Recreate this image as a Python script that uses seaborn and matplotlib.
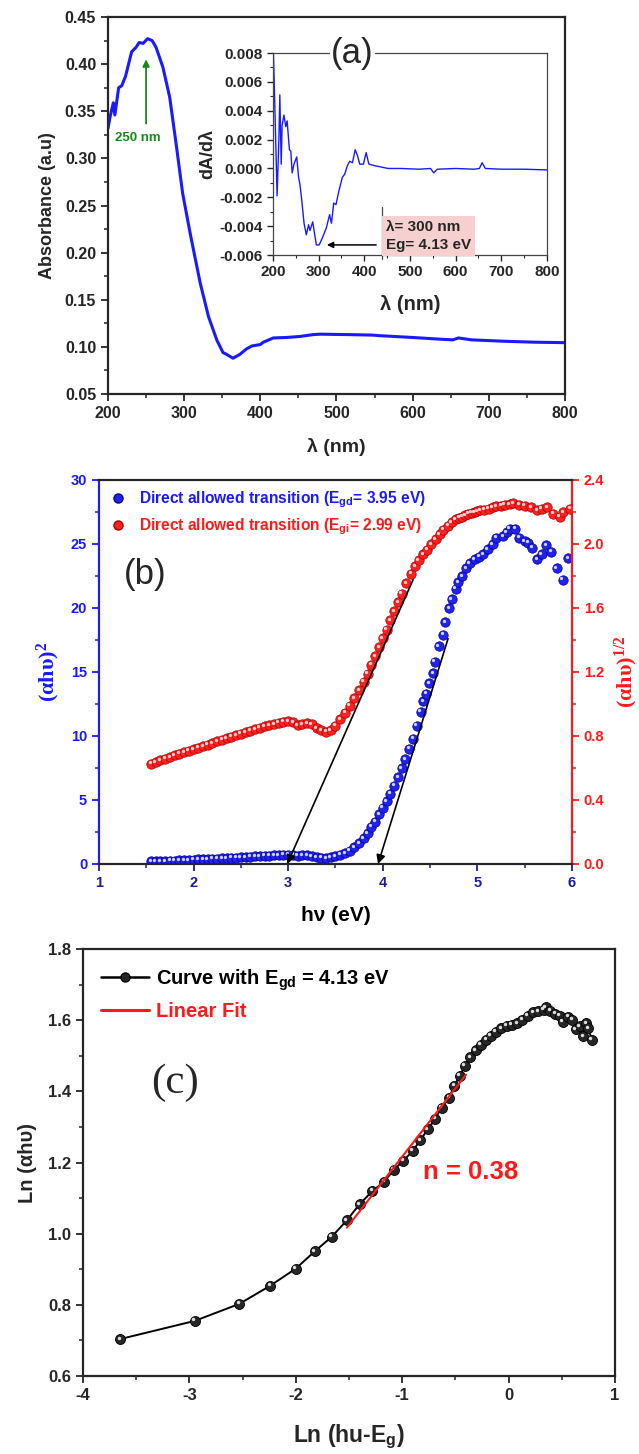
import numpy as np
import matplotlib
matplotlib.use("Agg")
import matplotlib.pyplot as plt
from matplotlib.lines import Line2D
from matplotlib.transforms import offset_copy
import seaborn as sns

# ---------------------------------------
# Data
# ---------------------------------------

# (a) absorbance spectrum
lam_a = [200, 203, 207, 209, 214, 218, 223, 231, 237, 241, 246, 252, 258, 263,
         272, 281, 290, 298, 308, 321, 332, 343, 351, 356, 364, 373, 382, 389,
         400, 404, 417, 434, 451, 469, 478, 520, 548, 555, 600, 640, 653, 660,
         677, 720, 760, 800]
abs_a = [0.332, 0.345, 0.359, 0.346, 0.375, 0.377, 0.387, 0.413, 0.418, 0.423,
         0.422, 0.427, 0.425, 0.418, 0.397, 0.365, 0.312, 0.263, 0.220, 0.168,
         0.132, 0.107, 0.094, 0.092, 0.088, 0.092, 0.098, 0.101, 0.1025, 0.105,
         0.1095, 0.110, 0.111, 0.113, 0.1135, 0.113, 0.1125, 0.112, 0.110,
         0.108, 0.1075, 0.1095, 0.1075, 0.106, 0.105, 0.1045]

# (a) inset: first derivative
lam_in = [201, 204, 209, 213, 215, 218, 220, 224, 228, 231, 236, 239, 242, 246,
          252, 256, 259, 263, 268, 273, 278, 281, 287, 290, 295, 301, 307, 317,
          324, 328, 333, 338, 344, 352, 357, 363, 368, 374, 380, 385, 390, 398,
          404, 410, 422, 437, 452, 480, 520, 545, 552, 560, 600, 640, 652, 658,
          665, 700, 750, 800]
dadl = [0.0080, 0.0044, -0.0019, 0.0021, 0.0051, 0.0003, 0.0030, 0.0037,
        0.0029, 0.0033, 0.0013, 0.0012, -0.0003, 0.0003, 0.0008, -0.0006,
        -0.0011, -0.0022, -0.0038, -0.0046, -0.0039, -0.0043, -0.0037,
        -0.0043, -0.0053, -0.0053, -0.0049, -0.0041, -0.0032, -0.0038,
        -0.0024, -0.0025, -0.0016, -0.0006, -0.0004, 0.0002, 0.0005, 0.0004,
        0.0013, 0.0009, 0.0003, 0.0003, 0.0011, 0.0003, 0.0002, 0.0001,
        0.0000, 0.0000, -0.00005, 0.0000, -0.0003, -0.00005, 0.0000, -0.00005,
        0.0000, 0.0004, 0.0000, -0.00005, -0.00005, -0.0001]

# (b) Tauc plot, direct (left axis)
hv_blue = [1.55, 1.60, 1.65, 1.70, 1.75, 1.80, 1.85, 1.90, 1.95, 2.00, 2.05,
           2.10, 2.15, 2.20, 2.25, 2.30, 2.35, 2.40, 2.45, 2.50, 2.55, 2.60,
           2.65, 2.70, 2.75, 2.80, 2.85, 2.90, 2.95, 3.00, 3.05, 3.10, 3.15,
           3.20, 3.25, 3.30, 3.35, 3.40, 3.45, 3.50, 3.55, 3.60, 3.65, 3.70,
           3.75, 3.80, 3.84, 3.88, 3.92, 3.96, 4.00, 4.04, 4.08, 4.12, 4.16,
           4.20, 4.24, 4.28, 4.32, 4.36, 4.40, 4.43, 4.46, 4.49, 4.53, 4.55,
           4.59, 4.64, 4.66, 4.70, 4.73, 4.77, 4.80, 4.84, 4.88, 4.92, 4.97,
           5.02, 5.06, 5.11, 5.16, 5.20, 5.27, 5.31, 5.34, 5.40, 5.44, 5.50,
           5.54, 5.58, 5.63, 5.68, 5.73, 5.78, 5.84, 5.90, 5.96]
ahv2 = [0.20, 0.21, 0.22, 0.24, 0.25, 0.27, 0.28, 0.30, 0.31, 0.33, 0.35,
        0.37, 0.38, 0.40, 0.42, 0.44, 0.46, 0.48, 0.50, 0.53, 0.55, 0.58,
        0.60, 0.62, 0.64, 0.66, 0.68, 0.70, 0.72, 0.73, 0.72, 0.66, 0.67,
        0.68, 0.60, 0.52, 0.48, 0.47, 0.52, 0.60, 0.72, 0.86, 1.05, 1.30,
        1.62, 2.0, 2.4, 2.9, 3.3, 3.9, 4.4, 4.9, 5.5, 6.1, 6.8,
        7.5, 8.2, 9.0, 9.8, 10.8, 11.9, 12.7, 13.3, 14.1, 14.9, 15.8,
        17.0, 17.9, 18.9, 20.0, 20.7, 21.5, 22.0, 22.5, 23.1, 23.5, 23.8,
        24.0, 24.2, 24.6, 25.0, 25.5, 25.6, 25.9, 26.2, 26.2, 25.5, 25.2,
        25.1, 24.7, 23.8, 24.2, 24.9, 24.4, 23.1, 22.2, 23.9]

# (b) Tauc plot, indirect (right axis)
hv_red = [1.55, 1.60, 1.65, 1.70, 1.75, 1.80, 1.85, 1.90, 1.95, 2.00, 2.05,
          2.10, 2.15, 2.20, 2.25, 2.30, 2.35, 2.40, 2.45, 2.50, 2.55, 2.60,
          2.65, 2.70, 2.75, 2.80, 2.85, 2.90, 2.95, 3.00, 3.05, 3.10, 3.15,
          3.20, 3.25, 3.30, 3.35, 3.40, 3.45, 3.50, 3.55, 3.60, 3.65, 3.70,
          3.75, 3.80, 3.84, 3.88, 3.92, 3.96, 4.00, 4.04, 4.08, 4.12, 4.16,
          4.20, 4.25, 4.30, 4.34, 4.38, 4.43, 4.47, 4.51, 4.56, 4.60, 4.64,
          4.69, 4.73, 4.77, 4.81, 4.84, 4.87, 4.90, 4.94, 4.97, 5.00, 5.03,
          5.07, 5.12, 5.16, 5.20, 5.25, 5.29, 5.34, 5.38, 5.44, 5.50, 5.57,
          5.63, 5.68, 5.74, 5.80, 5.87, 5.91, 5.98]
ahv_half = [0.626, 0.637, 0.648, 0.658, 0.668, 0.678, 0.688, 0.697, 0.707,
            0.716, 0.726, 0.736, 0.746, 0.756, 0.766, 0.776, 0.786, 0.796,
            0.806, 0.815, 0.824, 0.833, 0.842, 0.851, 0.860, 0.868, 0.875,
            0.882, 0.888, 0.891, 0.885, 0.868, 0.872, 0.880, 0.872, 0.850,
            0.835, 0.826, 0.836, 0.865, 0.905, 0.945, 0.990, 1.035, 1.085,
            1.140, 1.190, 1.245, 1.300, 1.355, 1.410, 1.465, 1.525, 1.580,
            1.635, 1.690, 1.755, 1.815, 1.860, 1.900, 1.935, 1.965, 2.000,
            2.030, 2.060, 2.090, 2.115, 2.135, 2.155, 2.163, 2.170, 2.180,
            2.190, 2.195, 2.200, 2.205, 2.210, 2.215, 2.220, 2.228, 2.235,
            2.240, 2.245, 2.250, 2.255, 2.245, 2.240, 2.230, 2.210, 2.220,
            2.230, 2.190, 2.170, 2.200, 2.220]

# (b) extrapolation lines (left-axis units), drawn from top to the intercept
fit_indirect_x = [4.32, 2.99]
fit_indirect_y = [22.2, 0.0]
fit_direct_x = [4.69, 3.95]
fit_direct_y = [17.6, 0.0]

# (c) ln-ln plot
ln_e = [-3.65, -2.95, -2.53, -2.24, -2.00, -1.82, -1.66, -1.52, -1.40, -1.28,
        -1.17, -1.08, -0.99, -0.90, -0.83, -0.76, -0.69, -0.63, -0.56, -0.51,
        -0.46, -0.41, -0.36, -0.31, -0.26, -0.21, -0.17, -0.12, -0.07, -0.02,
        0.03, 0.08, 0.13, 0.18, 0.23, 0.28, 0.33, 0.35, 0.39, 0.44, 0.48,
        0.51, 0.56, 0.60, 0.63, 0.67, 0.70, 0.73, 0.75, 0.78]
ln_a = [0.704, 0.755, 0.803, 0.854, 0.902, 0.951, 0.992, 1.038, 1.083, 1.120,
        1.146, 1.179, 1.205, 1.233, 1.263, 1.293, 1.323, 1.354, 1.382, 1.416,
        1.444, 1.472, 1.496, 1.515, 1.531, 1.545, 1.556, 1.568, 1.578, 1.584,
        1.587, 1.592, 1.601, 1.612, 1.622, 1.625, 1.629, 1.637, 1.626, 1.618,
        1.612, 1.596, 1.609, 1.601, 1.575, 1.583, 1.555, 1.592, 1.578, 1.545]
fit_c_x = [-1.52, -0.40]
fit_c_y = [1.017, 1.447]

# ---------------------------------------
# Style
# ---------------------------------------

sns.set_style("ticks")
plt.rcParams["font.family"] = ["Liberation Sans", "DejaVu Sans"]
plt.rcParams["font.weight"] = "bold"
plt.rcParams["axes.labelweight"] = "bold"
plt.rcParams["mathtext.default"] = "regular"
plt.rcParams["axes.unicode_minus"] = False
plt.rcParams["xtick.direction"] = "out"
plt.rcParams["ytick.direction"] = "out"

BLUE = "#1a1aff"
RED = "#ff1a1a"
SERIF = ["Liberation Serif", "DejaVu Serif"]

fig = plt.figure(figsize=(6.39, 14.54), dpi=100)


def style_ticks(ax, size):
    ax.tick_params(which="major", length=5, width=1.3, labelsize=size)
    ax.tick_params(which="minor", length=3, width=1.1)
    for lab in ax.get_xticklabels() + ax.get_yticklabels():
        lab.set_fontweight("bold")


def spheres(ax, x, y, color, edge, s):
    sns.scatterplot(x=x, y=y, ax=ax, s=s, color=color, edgecolor=edge,
                    linewidth=0.5, zorder=3, legend=False)
    shine = offset_copy(ax.transData, fig=fig, x=-1.0, y=1.0, units="points")
    ax.scatter(x, y, s=s * 0.12, color="white", alpha=0.8, linewidths=0,
               zorder=4, transform=shine)


# ---------------------------------------
# (a) Absorbance
# ---------------------------------------

ax_a = fig.add_axes([0.1690, 0.7290, 0.7152, 0.2593])
sns.lineplot(x=lam_a, y=abs_a, ax=ax_a, color=BLUE, lw=2.2,
             estimator=None, sort=False)
ax_a.set_xlim(200, 800)
ax_a.set_ylim(0.05, 0.45)
ax_a.set_xticks(range(200, 801, 100))
ax_a.set_yticks(np.arange(0.05, 0.451, 0.05))
ax_a.set_yticklabels([f"{v:.2f}" for v in np.arange(0.05, 0.451, 0.05)])
ax_a.set_xticks(range(250, 800, 100), minor=True)
ax_a.set_yticks(np.arange(0.075, 0.45, 0.05), minor=True)
for sp in ax_a.spines.values():
    sp.set_linewidth(1.6)
style_ticks(ax_a, 11.5)
ax_a.set_xlabel("λ (nm)", fontsize=14, labelpad=12)
ax_a.set_ylabel("Absorbance (a.u)", fontsize=13, labelpad=6)

ax_a.annotate("", xy=(250, 0.408), xytext=(250, 0.334),
              arrowprops=dict(arrowstyle="-|>", color="#188a18", lw=1.3,
                              mutation_scale=10))
ax_a.text(239, 0.322, "250 nm", color="#188a18", fontsize=9.5,
          fontweight="bold", ha="center", va="center")

# inset
ax_in = fig.add_axes([0.4272, 0.8246, 0.4288, 0.1389])
sns.lineplot(x=lam_in, y=dadl, ax=ax_in, color=BLUE, lw=1.0,
             estimator=None, sort=False)
ax_in.set_xlim(200, 800)
ax_in.set_ylim(-0.006, 0.008)
ax_in.set_xticks(range(200, 801, 100))
ax_in.set_yticks(np.arange(-0.006, 0.0081, 0.002))
ax_in.set_yticklabels([f"{v:.3f}" for v in np.arange(-0.006, 0.0081, 0.002)])
ax_in.set_xticks(range(250, 800, 100), minor=True)
ax_in.set_yticks(np.arange(-0.005, 0.008, 0.002), minor=True)
for sp in ax_in.spines.values():
    sp.set_linewidth(0.9)
    sp.set_color("#444444")
style_ticks(ax_in, 11)
ax_in.tick_params(which="major", length=4, width=1.0)
ax_in.tick_params(which="minor", length=2.5, width=0.8)
ax_in.set_xlabel("λ (nm)", fontsize=14.5, labelpad=11)
ax_in.set_ylabel("dA/dλ", fontsize=13, labelpad=2)
ax_in.text(0.29, 1.0, "(a)", transform=ax_in.transAxes, fontsize=25,
           fontweight="normal", ha="center", va="center",
           bbox=dict(facecolor="white", edgecolor="none", pad=1.0))
ax_in.annotate("", xy=(312, -0.0053), xytext=(432, -0.0053),
               arrowprops=dict(arrowstyle="-|>", color="black", lw=1.1,
                               mutation_scale=9))
ax_in.text(0.412, 0.095, "λ= 300 nm\nEg= 4.13 eV", transform=ax_in.transAxes,
           fontsize=11, fontweight="bold", ha="left", va="center",
           linespacing=1.4,
           bbox=dict(facecolor="#f6cfcf", edgecolor="none", pad=3))
ax_in.plot([0.398, 0.398], [-0.02, 0.24], transform=ax_in.transAxes,
           color="#444444", lw=0.9, clip_on=False)

# ---------------------------------------
# (b) Tauc plots
# ---------------------------------------

ax_b = fig.add_axes([0.1549, 0.4058, 0.7402, 0.2641])
ax_b2 = ax_b.twinx()
spheres(ax_b, hv_blue, ahv2, "#2222ee", "#00008a", 46)
spheres(ax_b2, hv_red, ahv_half, "#ff2020", "#a00000", 46)

ax_b.set_xlim(1, 6)
ax_b.set_ylim(0, 30)
ax_b2.set_ylim(0, 2.4)
ax_b.set_xticks(range(1, 7))
ax_b.set_xticks(np.arange(1.5, 6, 1.0), minor=True)
ax_b.set_yticks(range(0, 31, 5))
ax_b.set_yticks(np.arange(2.5, 30, 5), minor=True)
ax_b2.set_yticks(np.arange(0, 2.41, 0.4))
ax_b2.set_yticklabels([f"{v:.1f}" for v in np.arange(0, 2.41, 0.4)])
ax_b2.set_yticks(np.arange(0.2, 2.4, 0.4), minor=True)
for a in (ax_b, ax_b2):
    for sp in a.spines.values():
        sp.set_linewidth(1.5)
    a.spines["left"].set_color(BLUE)
    a.spines["right"].set_color(RED)
style_ticks(ax_b, 10.5)
style_ticks(ax_b2, 10.5)
ax_b.tick_params(axis="y", which="both", colors=BLUE)
ax_b.tick_params(axis="x", which="both", colors="#1c1c9a")
ax_b2.tick_params(axis="y", which="both", colors=RED)

ax_b.set_xlabel("hν (eV)", fontsize=15, labelpad=12, color="black")
ax_b.set_ylabel("(αhυ)$^{2}$", fontsize=16, color=BLUE, family=SERIF,
                labelpad=6)
ax_b2.set_ylabel("(αhυ)$^{1/2}$", fontsize=16, color=RED, family=SERIF,
                 labelpad=6)

for fx, fy in ((fit_indirect_x, fit_indirect_y), (fit_direct_x, fit_direct_y)):
    ax_b2.annotate("", xy=(fx[1], fy[1]), xytext=(fx[0], fy[0]),
                   xycoords=ax_b.transData, textcoords=ax_b.transData,
                   arrowprops=dict(arrowstyle="-|>", color="black", lw=1.2,
                                   mutation_scale=13, shrinkA=0, shrinkB=0),
                   zorder=6)

ax_b.text(0.097, 0.755, "(b)", transform=ax_b.transAxes, fontsize=25,
          fontweight="normal", ha="center", va="center")

handles_b = [
    Line2D([], [], ls="none", marker="o", ms=6.5, color="#2222ee",
           markeredgecolor="#00008a"),
    Line2D([], [], ls="none", marker="o", ms=6.5, color="#ff2020",
           markeredgecolor="#a00000"),
]
labels_b = ["Direct allowed transition (E$_{gd}$= 3.95 eV)",
            "Direct allowed transition (E$_{gi}$= 2.99 eV)"]
ax_b2.legend(handles_b, labels_b, loc="upper left", frameon=False,
             labelcolor=[BLUE, RED], handletextpad=0.8,
             borderaxespad=0.2, labelspacing=0.45, handlelength=1.2,
             prop={"weight": "bold", "size": 11.2})

# ---------------------------------------
# (c) ln-ln plot
# ---------------------------------------

ax_c = fig.add_axes([0.1299, 0.0536, 0.8326, 0.2937])
sns.lineplot(x=ln_e, y=ln_a, ax=ax_c, color="black", lw=1.4,
             estimator=None, sort=False, marker="o", markersize=7.2,
             markerfacecolor="#262626", markeredgecolor="black",
             markeredgewidth=0.6, zorder=3)
shine_c = offset_copy(ax_c.transData, fig=fig, x=-1.1, y=1.1, units="points")
ax_c.scatter(ln_e, ln_a, s=6, color="white", alpha=0.85, linewidths=0,
             zorder=4, transform=shine_c)
sns.lineplot(x=fit_c_x, y=fit_c_y, ax=ax_c, color=RED, lw=1.5,
             estimator=None, sort=False, zorder=5)

ax_c.set_xlim(-4, 1)
ax_c.set_ylim(0.6, 1.8)
ax_c.set_xticks(range(-4, 2))
ax_c.set_xticks(np.arange(-3.5, 1, 1.0), minor=True)
ax_c.set_yticks(np.arange(0.6, 1.81, 0.2))
ax_c.set_yticklabels([f"{v:.1f}" for v in np.arange(0.6, 1.81, 0.2)])
ax_c.set_yticks(np.arange(0.7, 1.8, 0.2), minor=True)
for sp in ax_c.spines.values():
    sp.set_linewidth(1.6)
style_ticks(ax_c, 12)
ax_c.set_xlabel("Ln (hu-E$_{g}$)", fontsize=16.5, labelpad=14)
ax_c.set_ylabel("Ln (αhυ)", fontsize=14.5, labelpad=8)

ax_c.text(0.173, 0.686, "(c)", transform=ax_c.transAxes, fontsize=31,
          fontweight="normal", family=SERIF, ha="center", va="center")
ax_c.text(-0.36, 1.174, "n = 0.38", color=RED, fontsize=18.5,
          fontweight="bold", ha="center", va="center")

handles_c = [
    Line2D([], [], color="black", lw=1.8, marker="o", ms=6.5,
           markerfacecolor="#262626", markeredgecolor="black"),
    Line2D([], [], color=RED, lw=2.2),
]
labels_c = ["Curve with E$_{gd}$ = 4.13 eV", "Linear Fit"]
ax_c.legend(handles_c, labels_c, loc="upper left", frameon=False,
            labelcolor=["black", RED], handlelength=2.4, handletextpad=0.3,
            borderaxespad=0.5, labelspacing=0.45,
            prop={"weight": "bold", "size": 14.5})

fig.savefig("out.png", dpi=100)
plt.close(fig)
print("Saved -> out.png")
